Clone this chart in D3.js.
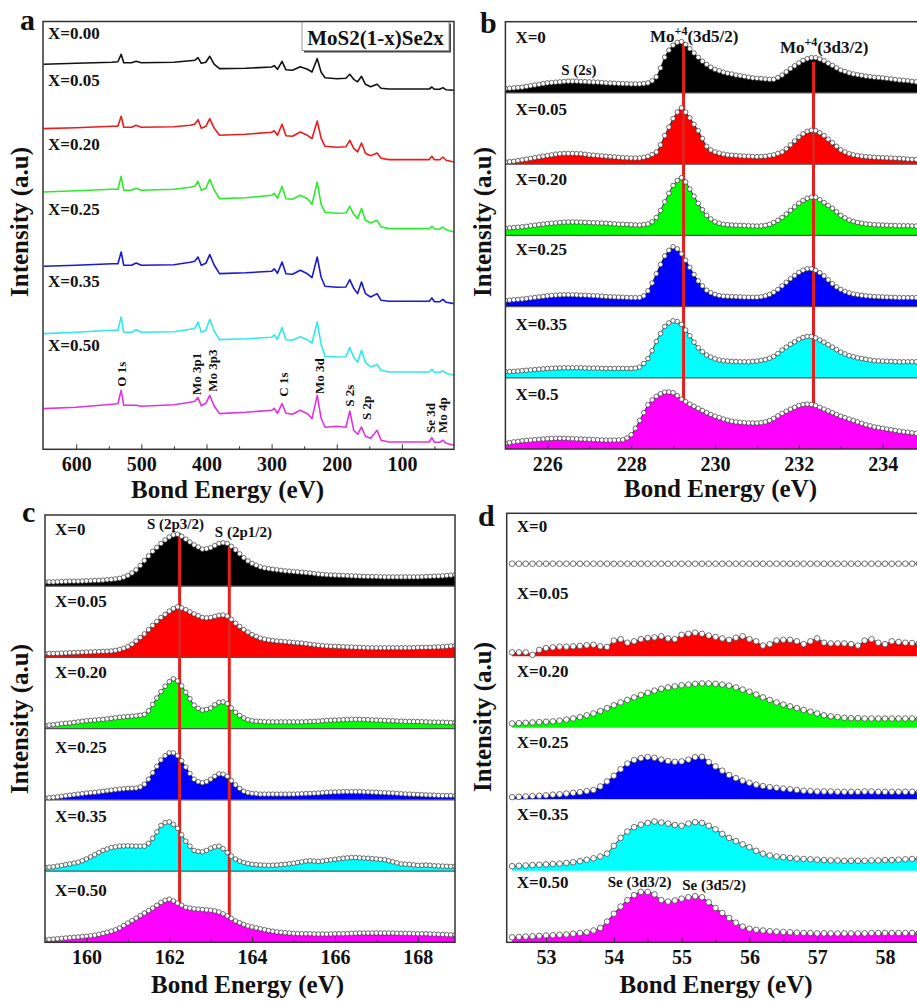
<!DOCTYPE html>
<html>
<head>
<meta charset="utf-8">
<script src="https://cdn.jsdelivr.net/npm/d3@7"></script>
<style>
body { margin: 0; background: #fff; }
svg { display: block; }
svg text { font-family: "Liberation Serif", "Times New Roman", Times, serif; font-weight: bold; }
</style>
</head>
<body>
<svg width="917" height="1001"></svg>
<script>
var svg = d3.select("svg");

// ---------- data ----------
const fillColors = ["#000000", "#ff0000", "#00ff00", "#0000ff", "#00ffff", "#ff00ff"];
const lineColorsA = ["#111111", "#ea1c1c", "#2eea2e", "#1a1acc", "#33e8e8", "#e033e0"];

const labelsA = ["X=0.00", "X=0.05", "X=0.20", "X=0.25", "X=0.35", "X=0.50"];
const labelsB = ["X=0", "X=0.05", "X=0.20", "X=0.25", "X=0.35", "X=0.5"];
const labelsCD = ["X=0", "X=0.05", "X=0.20", "X=0.25", "X=0.35", "X=0.50"];

// panel a: survey spectra (eV, intensity a.u.)
const surveyEnergy = [650,600,545,536,531,527,515,508,500,450,425,418,413,408,401,395,388,380,340,300,296,291,284,278,268,256,245,238,230,224,218,200,186,180,174,168,162,156,148,138,132,120,80,58,54,50,42,37,32,20];
const survey000 = [385,386,387,387.5,395,386.5,386.5,388,386.5,387,388.5,389,391.7,386,387,393,385,380.7,381,382.3,383.7,380,388,379.5,379,382.5,380,377.3,390.7,377,371.5,370.5,371,375,370,367.5,373,365,362.5,365,361,360.3,360.3,360.3,362.3,360,360,361.7,359.5,359];
const survey005 = [320.7,321.5,323,323,333,322,322,324,322,322.5,324,325,329.7,321,323,330.7,321,314,315,317,318.5,314,325,313.5,313,317.3,314,310.7,328.3,311,303,302,302.5,309,301,297.5,306.3,296,293.5,296.3,291,289.7,289.7,289.7,293,289.5,289.5,292.3,289,287.3];
const survey020 = [257.3,258.5,260,260,273,259,259,261,259,260,262,263,268,259,261,270,259,250.7,251.5,254,256,251,263,250.5,250,254,250.5,245,267.3,245,237,236,236.3,243,235,230.7,240.7,229,226.3,229,222.5,220.7,220.7,220.7,223,220.3,220.3,222.3,219.5,217.3];
const survey025 = [183,184,185.5,185.5,197.3,184,184,186.3,184,184.5,187,188,192.3,184,186,194.7,184,175.7,176.5,178,180.5,176,187.3,175.5,175,179,175.5,171.7,192.3,172,163,162,162.3,169.7,161,155.7,167.3,155.7,152.3,155.7,149,148,148,148,151.3,147.5,147.5,150,147,145.7];
const survey035 = [115.7,117,119,119,132.3,117,117,119.5,117,117.5,120,121,127.3,117,119,130,118,109.7,110.5,112,114.5,110,121.7,109.5,109,112.5,109.5,106.3,127.3,105,93,92.3,92.5,101.7,92,87,99,87,82.3,84.7,79,77.3,77.3,77.3,80,77,77,78.3,76,74];
const survey050 = [40.7,42,45,45.5,59,44,44,44,43,44.5,47,48,51.7,43.5,46,54,43,35.7,37,39,41,36,45.7,36,35,39,35.5,30.7,54,31,22,23,22,38.3,19,15,22.3,13,11,19,9,7.3,7.3,7.3,11.7,7,7,9,6,4];
const labelLevelA = [410.3, 363.3, 299.3, 234.3, 162.3, 98.3];
const peakNamesA = ["O 1s", "Mo 3p1", "Mo 3p3", "C 1s", "Mo 3d", "S 2s", "S 2p", "Se 3d", "Mo 4p"];
const peakEnergyA = [530.5, 416, 390.8, 282.5, 227, 181, 155, 56.8, 37.6];
const peakLevelA = [62.6, 54.3, 57.6, 52.6, 55.3, 42.6, 29.3, 16.3, 16.3];

// panel b: Mo 3d region, % of strip height
const energyB = [225,225.1,225.2,225.3,225.4,225.5,225.6,225.7,225.8,225.9,226,226.1,226.2,226.3,226.4,226.5,226.6,226.7,226.8,226.9,227,227.1,227.2,227.3,227.4,227.5,227.6,227.7,227.8,227.9,228,228.1,228.2,228.3,228.4,228.5,228.6,228.7,228.8,228.9,229,229.1,229.2,229.3,229.4,229.5,229.6,229.7,229.8,229.9,230,230.1,230.2,230.3,230.4,230.5,230.6,230.7,230.8,230.9,231,231.1,231.2,231.3,231.4,231.5,231.6,231.7,231.8,231.9,232,232.1,232.2,232.3,232.4,232.5,232.6,232.7,232.8,232.9,233,233.1,233.2,233.3,233.4,233.5,233.6,233.7,233.8,233.9,234,234.1,234.2,234.3,234.4,234.5,234.6,234.7,234.8,234.9,235];
const moX000 = [6,6.5,7,7.5,8,9,10,11,12,13,14,14.5,15,15.5,16,16.3,16.5,16.3,16,15.8,15.5,15.2,15,14.5,14,13.8,13.5,13.2,13,12.8,12.5,12.5,12.5,13,14,17,22.5,35,50,60,67,71,72,68,62,56,50,44.5,40,36,33,31,29,27.5,26.5,25,24,23,22,21,20.5,20,19.5,19,19,21.5,25,29.5,34,38,42,45.5,48,49.5,49.5,47.5,45,41.5,38.5,35,32,30,28,26.5,25.5,24.5,23.5,22.7,22,21.5,21,20.2,19.5,18.7,18,17.5,17,16.2,15.5,15.2,15];
const moX005 = [3,3.5,4,5,6,7,8,9,10,11,12,13,14,14.5,15,15,15,14.8,14.5,13.8,13,12.5,12,11.5,11,10.5,10,9.5,9,8.8,8.5,8.5,8.5,9.5,11,13.5,17,27,40,52,64,73,79,73,65,56,47,36,25,20,17,15.5,14,13,12.5,12,11.5,11.2,11,10.7,10.5,10.7,11,12,13,15,17,21.5,27,32.5,38,42.5,46,47.5,47,44,40,35,30,25,20,17,14.5,13,12,11.2,10.5,10,9.5,9.2,9,8.7,8.5,8.2,8,7.5,7,6.7,6.5,6.5,6.5];
const moX020 = [10,10.5,11,11.5,12,12.7,13.5,14.2,15,15.7,16.5,17,17.5,18,18.5,18.6,18.7,18.6,18.5,18.2,18,17.7,17.5,17.2,17,16.5,16,15.7,15.5,15.2,15,14.7,14.5,15,16,19,25,35,47,59,70,77,81,75,65,55,45,36,28,23,19,17,15.5,15,14.5,14.2,14,13.7,13.5,13.2,13,13.3,14,15.5,18,21,25,30,35,40,45,49,52,53.5,53.5,50,46,42,38,33,28,24.5,21.5,19.5,18,17,16,15.5,15,14.7,14.5,14.2,14,13.7,13.5,13.5,13.5,13.2,13,13,13];
const moX025 = [8.5,9,9.5,10,10.5,11.2,12,12.7,13.5,14.2,15,15.5,16,16.3,16.5,16.5,16.5,16.3,16,15.8,15.5,15.2,15,14.5,14,13.7,13.5,13.2,13,12.7,12.5,12.5,12.5,15,22,33,46,59,71,79,84,81,74,65,55,45,36,29,23,19.5,17,15.5,14.5,14.2,14,13.7,13.5,13.2,13,13,13,13.7,15,17,20,24,29,34,39,43.5,48,51,53,53,51,47.5,43,37.5,32,27.5,24,21.2,19,17.5,16.5,15.7,15,14.5,14,13.7,13.5,13.2,13,12.7,12.5,12.5,12.5,12.5,12.5,12.4,12.3];
const moX035 = [8.5,8.7,9,9.5,10,10.5,11,11.5,12,12.5,13,13.2,13.5,13.7,14,14,14,14,14,13.7,13.5,13.5,13.5,13.2,13,13,13,13,13,13,13,13.5,15,20,27,38,51,62,72,77,80,79,75,67,59,50,42,36.5,32,29,26.5,25,24,23.5,23,22.7,22.5,22.5,22.5,23,23.5,24.5,25.5,27.5,30,34,39,43,47,50.5,54,56.5,58,58,56,53,50,46.5,43,39.5,36,33.5,31,29.5,28,27,26,25,24,23.7,23.5,23.2,23,22.7,22.5,22.5,22.5,22.5,22.5,22.5,22.5];
const moX050 = [8,9,10,10.7,11.5,12,12.5,13,13.5,14,14.5,14.7,15,15,15,14.7,14.5,14.2,14,13.7,13.5,13.2,13,12.7,12.5,12.5,12.5,12.7,13,15.5,20,29,40,51,62,69,74,77.5,80,80,79,75,70,66.5,63,60,57,54,51,48.5,46,44,42,40.5,39,38,37.5,37,36.5,36.5,36.5,37,38,40,43,46.5,50,53,56,58.5,61,62.5,63,62.5,61,58.5,56,53.5,51,48.5,46,44,42,40,38,36,34,32.5,31,30,29,28,27,26,25,24.2,23.5,22.7,22,21.5,21];
const markB = [229.25, 232.35];

// panel c: S 2p region
const energyC = [159,159.1,159.2,159.3,159.4,159.5,159.6,159.7,159.8,159.9,160,160.1,160.2,160.3,160.4,160.5,160.6,160.7,160.8,160.9,161,161.1,161.2,161.3,161.4,161.5,161.6,161.7,161.8,161.9,162,162.1,162.2,162.3,162.4,162.5,162.6,162.7,162.8,162.9,163,163.1,163.2,163.3,163.4,163.5,163.6,163.7,163.8,163.9,164,164.1,164.2,164.3,164.4,164.5,164.6,164.7,164.8,164.9,165,165.1,165.2,165.3,165.4,165.5,165.6,165.7,165.8,165.9,166,166.1,166.2,166.3,166.4,166.5,166.6,166.7,166.8,166.9,167,167.1,167.2,167.3,167.4,167.5,167.6,167.7,167.8,167.9,168,168.1,168.2,168.3,168.4,168.5,168.6,168.7,168.8,168.9,169];
const sX000 = [6,6,6,6.2,6.5,6.7,7,7,7,7.2,7.5,7.7,8,8.2,8.5,9,9.5,10.2,11,12.7,15,18.5,23,29,36,42.5,49,54.5,60,65,69,72,73,70,66,62,58,55,52,52.5,54,57,60,61,60,56,51,45.5,40,35.5,32,29.5,27,25.5,24.5,23.7,23,22.2,21.5,21,20.5,20,19.5,19,18.5,17.7,17,16.5,16,15.7,15.5,15.2,15,14.7,14.5,14.2,14,13.7,13.5,13.5,13.5,13.2,13,13,13,13,13,13,13,13,13,13.2,13.5,13.7,14,14.2,14.5,15,15.5,16,16.5];
const sX005 = [5.5,5.5,5.5,5.7,6,6.2,6.5,6.7,7,7.2,7.5,7.7,8,8.2,8.5,8.7,9,9.8,11,12.8,15,18.5,23,28,33,39,45,50.5,56,60.5,65,68.5,71,69.5,67,64,61,58.5,56,55.5,56,57.5,59,59.5,58,53.5,48,43.5,39,35.5,32,29.5,27,25.7,24.5,23.7,23,22.5,22,21.5,21,20.5,20,19.2,18.5,17.7,17,16.5,16,15.7,15.5,15.2,15,14.7,14.5,14.2,14,13.7,13.5,13.5,13.5,13.5,13.5,13.5,13.5,13.5,13.5,13.5,13.5,13.7,14,14,14,14.2,14.5,14.7,15,15.5,16,16.5,17];
const sX020 = [4.5,5,5.5,6.2,7,7.5,8,8.7,9.5,10.2,11,11.5,12,12.5,13,13.7,14.5,15.2,16,16.5,17,17.5,18,18.7,20,25,34,43,52,59.5,66,70,67,60,51,42,33,28.5,26,27,29,33.5,37,37.5,35,29,23,18.5,15,12.5,11,10.5,10,9.7,9.5,9.5,9.5,9.5,9.5,9.5,9.5,9.5,9.5,9.7,10,10.2,10.5,11,11.5,11.7,12,12.2,12.5,12.7,13,13,13,12.7,12.5,12.2,12,11.7,11.5,11.2,11,10.7,10.5,10.2,10,10,10,9.7,9.5,9.2,9,9,9,8.7,8.5,8.5,8.5];
const sX025 = [2.5,3,3.5,4.2,5,5.7,6.5,7.2,8,8.7,9.5,10,10.5,11.2,12,12.7,13.5,14.2,15,15.5,16,16.2,16.5,18,22,29,38,47,56,62,66,66,62,55,46,37,29,25.5,24,25.5,29,33,36.5,36,33,27,21,16,12,10,9,8.5,8,8,8,8,8,8,8,8,8,8.2,8.5,8.7,9,9.2,9.5,10,10.5,10.7,11,11.2,11.5,11.5,11.5,11.5,11.5,11.2,11,10.7,10.5,10.2,10,9.7,9.5,9,8.5,8.2,8,7.7,7.5,7.2,7,6.7,6.5,6.2,6,6,6,5.7,5.5];
const sX035 = [5,5.5,6,7,8,9,10,11.2,12.5,14.5,17,20,23,26,29,31,33,34,35,35.2,35.5,35.2,35,35,35,39,46,55,64,68,69,65.5,60,51,42,35,29,27.5,27,29,32,34,35,31.5,26,21,17,14,12,10.5,9.5,9,8.5,8.2,8,8.2,8.5,9,9.5,10.2,11,12,13,14,14.5,14,13.5,14,15,15.7,16.5,17.2,18,18.5,19,19,18.5,18.2,18,17.5,17,16.5,16,14.5,13,11.5,10,9.7,9.5,8.7,8,8.2,8.5,8,7.5,7.2,7,6.7,6.5,6.5,6.5];
const sX050 = [3.5,4,4.5,5,5.5,6,6.5,7,7.5,8,8.5,9.2,10,11.2,12.5,14,15.5,17.5,20,23.5,27,30.5,34,37.5,41,44.5,48,52,56,59,60.5,58,55,52,49,48,47,46.5,46,45.5,45,44,42.5,40,37,33.5,30,27.5,25,23,21.5,20.2,19,17.7,16.5,15.5,14.5,14,13.5,13,12.5,12.2,12,12,12,11.7,11.5,11.5,11.5,11.7,12,12,12,12.2,12.5,12.7,13,13,13,13,13,13,13,13,13,12.7,12.5,12.5,12.5,12.2,12,12,12,11.7,11.5,11.2,11,10.7,10.5,10.5,10.5];
const markC = [162.25, 163.45];

// panel d: Se 3d region
const energyD = [52.5,52.6,52.7,52.8,52.9,53,53.1,53.2,53.3,53.4,53.5,53.6,53.7,53.8,53.9,54,54.1,54.2,54.3,54.4,54.5,54.6,54.7,54.8,54.9,55,55.1,55.2,55.3,55.4,55.5,55.6,55.7,55.8,55.9,56,56.1,56.2,56.3,56.4,56.5,56.6,56.7,56.8,56.9,57,57.1,57.2,57.3,57.4,57.5,57.6,57.7,57.8,57.9,58,58.1,58.2,58.3,58.4,58.5];
const seX000 = [29.5,29.5,29.5,29.5,29.5,29.5,29.5,29.5,29.5,29.5,29.5,29.5,29.5,29.5,29.5,29.5,29.5,29.5,29.5,29.5,29.5,29.5,29.5,29.5,29.5,29.5,29.5,29.5,29.5,29.5,29.5,29.5,29.5,29.5,29.5,29.5,29.5,29.5,29.5,29.5,29.5,29.5,29.5,29.5,29.5,29.5,29.5,29.5,29.5,29.5,29.5,29.5,29.5,29.5,29.5,29.5,29.5,29.5,29.5,29.5,29.5];
const seX005 = [5.5,5.5,5.5,2,9,11.5,12.5,13.5,13.5,14,14.5,15.5,16,14,13,22,24,19,21,24,25.5,26.5,28,25,24,30,31.5,33,31.5,29,27,25,23,26,28,24,21,15,17,22,23,23,21,17,21,25,19,18,18,18,17,15,22,24,19,17,21,20,19,18.5,18];
const seX020 = [6,6.5,7,7.5,8,8.5,9,10,11.5,13,15,17.5,20,23.5,27.5,31.5,35.5,39,42.5,46,49,52,54.5,56.5,58,59.5,60.5,61.5,62,62,61.5,60.5,59,56.5,53.5,50.5,46.5,42.5,39,35.5,32.5,30,27.5,25,22.5,20,17.5,16,15,14,13.5,13.5,13,13,13,13,13,13,13,13,13];
const seX025 = [3,3.5,4,4.5,5,5.5,6.5,7,8,9,10,11.5,13,18,25,33,42,50,55,57.5,59,58,55.5,53.5,52.5,53,55.5,59,59.5,52,46,40,34,29.5,26,23,20.5,18.5,17,16,15,14,13,12,11.5,11,11,11,10.5,10.5,10.5,10.5,11,11,10.5,10.5,10.5,10.5,10.5,10.5,10.5];
const seX035 = [6.5,7,7.5,8,8.5,9,9.5,10,11,12,13.5,15.5,17.5,20,24,35,46,55,61,64.5,67,69,67.5,66,64,63,66,68,67,63,58,51.5,46,41.5,37,33,28,24,21.5,20,19,18,17,16.5,16,15.5,15,14.5,14.5,14,14,14,14,14.5,14.5,15,15,15.5,16,16.5,17];
const seX050 = [7,7.5,8,8.5,9,9.5,10,10.5,11,12,13,14,16.5,20,29,40,50,59,66,70.5,70.5,67,59,57,58.5,61,63,64.5,63,56,48,41,34,27.5,22,19,17.5,16.5,15.5,15,14.5,14,13.5,13,13,12.5,12.5,12.5,12.5,12.5,12.5,12.5,12.5,13,13,13,13,13,13,13,13];

// ---------- helpers ----------
const defs = svg.append("defs");

function addText(x, y, str, size, anchor) {
	return svg.append("text")
		.attr("x", x).attr("y", y)
		.attr("font-size", size)
		.attr("text-anchor", anchor || "start")
		.attr("fill", "#111")
		.text(str);
}

function energyAxis(x, yPos, major, minor) {
	const gm = svg.append("g")
		.attr("transform", `translate(0,${yPos})`)
		.call(d3.axisBottom(x).tickValues(minor).tickSize(-3).tickFormat(""));
	gm.select(".domain").remove();
	gm.selectAll("line").attr("stroke", "#333");

	const g = svg.append("g")
		.attr("transform", `translate(0,${yPos})`)
		.call(d3.axisBottom(x).tickValues(major).tickSize(-5).tickPadding(8).tickFormat(d3.format("d")));
	g.select(".domain").remove();
	g.selectAll("line").attr("stroke", "#333");
	g.selectAll("text")
		.attr("font-size", 20)
		.attr("fill", "#111");
}

function frame(x0, y0, x1, y1) {
	svg.append("rect")
		.attr("x", x0).attr("y", y0)
		.attr("width", x1 - x0).attr("height", y1 - y0)
		.attr("fill", "none")
		.attr("stroke", "#333")
		.attr("stroke-width", 1.5);
}

function yTitle(x, y) {
	svg.append("text")
		.attr("transform", `translate(${x},${y}) rotate(-90)`)
		.attr("text-anchor", "middle")
		.attr("font-size", 25)
		.attr("fill", "#111")
		.text("Intensity (a.u)");
}

// stacked strips of filled spectra with open circles
function strips(cfg) {
	const n = cfg.series.length;
	const h = (cfg.bottom - cfg.top) / n;
	const id = "clip-" + cfg.name;
	defs.append("clipPath").attr("id", id)
		.append("rect")
		.attr("x", cfg.left).attr("y", cfg.top)
		.attr("width", cfg.right - cfg.left).attr("height", cfg.bottom - cfg.top);
	const g = svg.append("g").attr("clip-path", `url(#${id})`);
	const ys = [];
	const pointSets = [];

	cfg.series.forEach((vals, i) => {
		const base = cfg.top + h * (i + 1);
		const y = d3.scaleLinear().domain([0, 100]).range([base, base - h]);
		ys.push(y);
		const pts = cfg.energy.map((e, k) => ({ e: e, v: vals[k] }));
		pointSets.push(pts);

		if (cfg.fills[i] !== "none") {
			g.append("path")
				.attr("d", d3.area()
					.x(d => cfg.x(d.e))
					.y0(base)
					.y1(d => y(d.v))
					.curve(d3.curveMonotoneX)(pts))
				.attr("fill", cfg.fills[i]);
		}
		g.append("path")
			.attr("d", d3.line()
				.x(d => cfg.x(d.e))
				.y(d => y(d.v))
				.curve(d3.curveMonotoneX)(pts))
			.attr("fill", "none")
			.attr("stroke", "#111")
			.attr("stroke-width", 0.8);
	});

	if (cfg.sep) {
		for (let i = 1; i < n; i++) {
			g.append("line")
				.attr("x1", cfg.left).attr("x2", cfg.right)
				.attr("y1", cfg.top + h * i).attr("y2", cfg.top + h * i)
				.attr("stroke", "#555")
				.attr("stroke-width", 1.2);
		}
	}

	if (cfg.marks) {
		cfg.marks.forEach((e, j) => {
			g.append("line")
				.attr("x1", cfg.x(e)).attr("x2", cfg.x(e))
				.attr("y1", ys[0](cfg.markTop[j]))
				.attr("y2", ys[n - 1](cfg.markBottom[j]))
				.attr("stroke", "#e3201b")
				.attr("stroke-width", 3);
		});
	}

	pointSets.forEach((pts, i) => {
		g.append("g")
			.selectAll("circle")
			.data(pts)
			.join("circle")
			.attr("cx", d => cfg.x(d.e))
			.attr("cy", d => ys[i](d.v))
			.attr("r", cfg.r)
			.attr("fill", "#fff")
			.attr("stroke", "#333")
			.attr("stroke-width", 0.7);
	});

	cfg.labels.forEach((t, i) => {
		addText(cfg.left + 10, cfg.top + h * i + cfg.labelDy[i], t, 17);
	});

	return ys;
}

// ---------- panel a ----------
const xA = d3.scaleLinear().domain([651, 20]).range([43, 454]);
const yA = d3.scaleLinear().domain([0, 428]).range([449.3, 21.3]);
const surveys = [survey000, survey005, survey020, survey025, survey035, survey050];

defs.append("clipPath").attr("id", "clip-a")
	.append("rect").attr("x", 43).attr("y", 21.5).attr("width", 411).attr("height", 428);
const ga = svg.append("g").attr("clip-path", "url(#clip-a)");
surveys.forEach((s, i) => {
	ga.append("path")
		.datum(surveyEnergy.map((e, k) => [e, s[k]]))
		.attr("d", d3.line().x(d => xA(d[0])).y(d => yA(d[1])))
		.attr("fill", "none")
		.attr("stroke", lineColorsA[i])
		.attr("stroke-width", 1.6)
		.attr("stroke-linejoin", "round");
});
labelsA.forEach((t, i) => addText(48, yA(labelLevelA[i]), t, 17));
peakNamesA.forEach((t, i) => {
	svg.append("text")
		.attr("transform", `translate(${xA(peakEnergyA[i])},${yA(peakLevelA[i])}) rotate(-90)`)
		.attr("dy", "0.35em")
		.attr("font-size", 13)
		.attr("fill", "#111")
		.text(t);
});
// legend box
svg.append("rect").attr("x", 304).attr("y", 23.5).attr("width", 147).attr("height", 29).attr("fill", "#444");
svg.append("rect").attr("x", 302).attr("y", 21.5).attr("width", 147).attr("height", 29)
	.attr("fill", "#fff").attr("stroke", "#999").attr("stroke-width", 1);
addText(375.5, 44.5, "MoS2(1-x)Se2x", 21, "middle");

energyAxis(xA, 449.3, [600, 500, 400, 300, 200, 100], [550, 450, 350, 250, 150, 50]);
frame(43, 21.5, 454, 449.3);
yTitle(28, 222);
addText(227.5, 498, "Bond Energy (eV)", 25, "middle");
addText(20, 30, "a", 30);

// ---------- panel b ----------
const xB = d3.scaleLinear().domain([225, 235]).range([505.4, 924.6]);
const ysB = strips({
	name: "b", x: xB, left: 505.4, right: 917, top: 21.7, bottom: 449,
	energy: energyB, series: [moX000, moX005, moX020, moX025, moX035, moX050],
	fills: fillColors, labels: labelsB, labelDy: [21, 22, 21, 20, 23, 22], r: 2.3, sep: true,
	marks: markB, markTop: [72, 43.8], markBottom: [66.4, 64.6]
});
const mo1 = addText(xB(228.45), ysB[0](72), "Mo", 17);
mo1.append("tspan").attr("dy", -7).attr("font-size", 12).text("+4");
mo1.append("tspan").attr("dy", 7).text("(3d5/2)");
const mo2 = addText(xB(231.55), ysB[0](55.6), "Mo", 17);
mo2.append("tspan").attr("dy", -7).attr("font-size", 12).text("+4");
mo2.append("tspan").attr("dy", 7).text("(3d3/2)");
addText(xB(226.33), ysB[0](25), "S (2s)", 15);

energyAxis(xB, 449, [226, 228, 230, 232, 234], [227, 229, 231, 233]);
frame(505.4, 21.7, 918, 449);
yTitle(491, 222);
addText(720.5, 496.7, "Bond Energy (eV)", 25, "middle");
addText(480, 33, "b", 30);

// ---------- panel c ----------
const xC = d3.scaleLinear().domain([159, 168.9]).range([45, 455]);
const ysC = strips({
	name: "c", x: xC, left: 45, right: 455, top: 515, bottom: 942.3,
	energy: energyC, series: [sX000, sX005, sX020, sX025, sX035, sX050],
	fills: fillColors, labels: labelsCD, labelDy: [20, 20.5, 20.5, 24, 22, 25], r: 2.3, sep: true,
	marks: markC, markTop: [74.7, 55.5], markBottom: [54.8, 36]
});
addText(xC(161.46), ysC[0](80.3), "S (2p3/2)", 15);
addText(xC(163.1), ysC[0](69.5), "S (2p1/2)", 15);

energyAxis(xC, 942.3, [160, 162, 164, 166, 168], [161, 163, 165, 167]);
frame(45, 515, 455, 942.3);
yTitle(28, 719);
addText(247.5, 993, "Bond Energy (eV)", 25, "middle");
addText(22, 522, "c", 30);

// ---------- panel d ----------
const xD = d3.scaleLinear().domain([52.42, 58.5]).range([506.7, 918.9]);
const ysD = strips({
	name: "d", x: xD, left: 506.7, right: 917, top: 513.3, bottom: 942.3,
	energy: energyD, series: [seX000, seX005, seX020, seX025, seX035, seX050],
	fills: ["none", "#ff0000", "#00ff00", "#0000ff", "#00ffff", "#ff00ff"],
	labels: labelsCD, labelDy: [18.5, 14, 20.5, 20, 20.5, 17.5], r: 2.8, sep: false
});
addText(xD(53.91), ysD[5](77.8), "Se (3d3/2)", 15);
addText(xD(55.01), ysD[5](73.1), "Se (3d5/2)", 15);

energyAxis(xD, 942.3, [53, 54, 55, 56, 57, 58], [53.5, 54.5, 55.5, 56.5, 57.5]);
frame(506.7, 513.3, 918, 942.3);
yTitle(491, 717);
addText(716, 993, "Bond Energy (eV)", 25, "middle");
addText(478, 526, "d", 30);
</script>
</body>
</html>
